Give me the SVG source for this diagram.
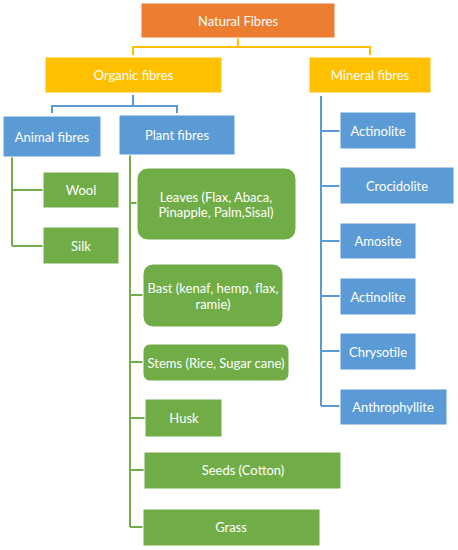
<svg xmlns="http://www.w3.org/2000/svg" width="458" height="550" viewBox="0 0 458 550">
<style>
rect{stroke:#ffffff;stroke-width:1}
.o{fill:#ED7D31}.y{fill:#FFC000}.b{fill:#5B9BD5}.g{fill:#70AD47}
text{font-family:Lato,"Open Sans","Liberation Sans",sans-serif;font-size:13px;fill:#ffffff;text-anchor:middle;dominant-baseline:central}
.cy{stroke:#FFC000}.cb{stroke:#5B9BD5}.cg{stroke:#70AD47}
#connectors path{fill:none;stroke-width:2}
</style>
<rect width="458" height="550" fill="#ffffff" stroke="none"/>
<g id="connectors">
<path class="cy" d="M238 38V47M133 55V47H370V55"/>
<path class="cb" d="M133 95V106M52 113V106H177V113"/>
<path class="cb" d="M321 96V406M321 131H340M321 186H340M321 241H340M321 296H340M321 351H340M321 406H340"/>
<path class="cg" d="M12 157V246M12 190H43M12 246H43"/>
<path class="cg" d="M130 155V527M130 203H137M130 295H143M130 362H143M130 418H145M130 470H144M130 527H143"/>
</g>
<g id="natural"><rect class="o" x="141" y="3" width="194" height="35"/><text x="238" y="20.5">Natural Fibres</text></g>
<g id="organic"><rect class="y" x="45" y="57" width="177" height="36"/><text x="133.5" y="75">Organic fibres</text></g>
<g id="mineral"><rect class="y" x="309" y="57" width="122" height="36"/><text x="370" y="75">Mineral fibres</text></g>
<g id="animal"><rect class="b" x="3" y="116" width="98" height="41"/><text x="52" y="136.5">Animal fibres</text></g>
<g id="plant"><rect class="b" x="119" y="115" width="116" height="40"/><text x="177" y="135">Plant fibres</text></g>
<g id="wool"><rect class="g" x="43" y="172" width="76" height="36"/><text x="81" y="190">Wool</text></g>
<g id="silk"><rect class="g" x="43" y="227" width="76" height="37"/><text x="81" y="245.5">Silk</text></g>
<g id="leaves"><rect class="g" x="137" y="168" width="159" height="72" rx="11"/><text x="216" y="196.5">Leaves (Flax, Abaca,</text><text x="216" y="212">Pinapple, Palm,Sisal)</text></g>
<g id="bast"><rect class="g" x="143" y="264" width="140" height="63" rx="10"/><text x="213" y="288">Bast (kenaf, hemp, flax,</text><text x="213" y="304">ramie)</text></g>
<g id="stems"><rect class="g" x="143" y="344" width="146" height="37" rx="7"/><text x="216" y="362.5">Stems (Rice, Sugar cane)</text></g>
<g id="husk"><rect class="g" x="145" y="399" width="77" height="38"/><text x="184" y="418">Husk</text></g>
<g id="seeds"><rect class="g" x="144" y="452" width="197" height="37"/><text x="243" y="470">Seeds (Cotton)</text></g>
<g id="grass"><rect class="g" x="143" y="509" width="177" height="37"/><text x="231" y="527">Grass</text></g>
<g id="actinolite1"><rect class="b" x="340" y="112" width="76" height="37"/><text x="378" y="130.5">Actinolite</text></g>
<g id="crocidolite"><rect class="b" x="340" y="167" width="114" height="37"/><text x="397" y="185.5">Crocidolite</text></g>
<g id="amosite"><rect class="b" x="340" y="223" width="76" height="36"/><text x="378" y="241">Amosite</text></g>
<g id="actinolite2"><rect class="b" x="340" y="278" width="76" height="37"/><text x="378" y="296.5">Actinolite</text></g>
<g id="chrysotile"><rect class="b" x="340" y="333" width="76" height="37"/><text x="378" y="351.5">Chrysotile</text></g>
<g id="anthrophyllite"><rect class="b" x="340" y="389" width="107" height="36"/><text x="393" y="407">Anthrophyllite</text></g>
</svg>
